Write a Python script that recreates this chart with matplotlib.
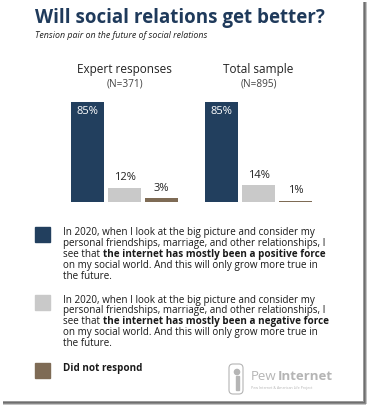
import matplotlib
matplotlib.use("Agg")
import matplotlib.pyplot as plt
from matplotlib.patches import Rectangle, FancyBboxPatch, Circle

# data
groups = ["Expert responses", "Total sample"]
group_n = ["(N=371)", "(N=895)"]
expert_vals = [85, 12, 3]
total_vals = [85, 14, 1]
colors = ["#223f5e", "#c9c9c9", "#7e6b55"]
title = "Will social relations get better?"
subtitle = "Tension pair on the future of social relations"
legend_pos = [
    "In 2020, when I look at the big picture and consider my",
    "personal friendships, marriage, and other relationships, I",
    [("see that", "normal"), ("the internet has mostly been a positive force", "bold")],
    "on my social world. And this will only grow more true in",
    "the future.",
]
legend_neg = [
    "In 2020, when I look at the big picture and consider my",
    "personal friendships, marriage, and other relationships, I",
    [("see that", "normal"), ("the internet has mostly been a negative force", "bold")],
    "on my social world. And this will only grow more true in",
    "the future.",
]

W, H = 369, 407
plt.rcParams['font.family'] = ['Open Sans', 'DejaVu Sans']
fig = plt.figure(figsize=(W / 100, H / 100), dpi=100)
fig.patch.set_facecolor("white")

# overlay axes in pixel coordinates for text / layout
bg = fig.add_axes([0, 0, 1, 1])
bg.set_xlim(0, W)
bg.set_ylim(H, 0)
bg.axis("off")

renderer = fig.canvas.get_renderer()


def text_w(s, size, weight):
    t = bg.text(0, 0, s, fontsize=size, fontweight=weight)
    w = t.get_window_extent(renderer).width
    t.remove()
    return w


def rich_line(x, y, parts, size, color="#1a1a1a"):
    sp = text_w("x x", size, "normal") - text_w("xx", size, "normal")
    for s, wgt in parts:
        t = bg.text(x, y, s, fontsize=size, fontweight=wgt, color=color,
                    ha="left", va="center")
        x += t.get_window_extent(renderer).width + sp


# title
bg.text(35, 18, title, fontsize=13.5, fontweight="bold", color="#1f3a5b",
        ha="left", va="center")
bg.text(35, 36, subtitle, fontsize=6.4, style="italic", color="#222222",
        ha="left", va="center")

# bars
ax = fig.add_axes([69 / W, 1 - 201.7 / H, 245 / W, 100 / H])
ax.set_xlim(-0.5, 6.12)
ax.set_ylim(0, 85)
ax.axis("off")
offsets = [0, 3.62]
for g, vals in enumerate([expert_vals, total_vals]):
    xs = [offsets[g] + i for i in range(3)]
    ax.bar(xs, vals, width=0.87, color=colors, edgecolor="none")
    for i, (x, v) in enumerate(zip(xs, vals)):
        if i == 0:
            ax.text(x, v - 8.5, f"{v}%", ha="center", va="center", color="white",
                    fontsize=8)
        else:
            ax.text(x, v + 8.5, f"{v}%", ha="center", va="center", color="#222222",
                    fontsize=8, clip_on=False)
    cx = offsets[g] + 1
    ax.text(cx, 85 + 0.85 * 31.7, groups[g], ha="center", va="center",
            fontsize=8.5, color="#222222", clip_on=False)
    ax.text(cx, 85 + 0.85 * 17.7, group_n[g], ha="center", va="center",
            fontsize=7.2, color="#444444", clip_on=False)

# legend
sq = 15
line_h = 10.9
bg.add_patch(Rectangle((35, 226.5), sq, sq, color=colors[0]))
bg.add_patch(Rectangle((35, 295), sq, sq, color=colors[1]))
bg.add_patch(Rectangle((35, 363.3), sq, sq, color=colors[2]))
for block, y0 in [(legend_pos, 233), (legend_neg, 300)]:
    for k, line in enumerate(block):
        y = y0 + k * line_h
        if isinstance(line, list):
            rich_line(63, y, line, 7.1)
        else:
            bg.text(63, y, line, fontsize=7.1, color="#1a1a1a", ha="left", va="center")
bg.text(63, 368, "Did not respond", fontsize=7.1, fontweight="bold", color="#1a1a1a",
        ha="left", va="center")

# Pew Internet logo
logo_c = "#b5b5b5"
bg.add_patch(FancyBboxPatch((229, 364), 14, 30, boxstyle="round,pad=0,rounding_size=4",
                            fill=False, ec=logo_c, lw=0.8))
bg.add_patch(Circle((237, 372), 2.6, color=logo_c))
bg.add_patch(Rectangle((235.5, 376), 3.2, 14, color=logo_c))
bg.text(251, 377, "Pew", fontsize=9.5, color=logo_c, ha="left", va="center")
pw = text_w("Pew", 9.5, "normal")
bg.text(251 + pw + 1, 377, "Internet", fontsize=9.5, fontweight="bold", color=logo_c,
        ha="left", va="center")
bg.text(251, 388, "Pew Internet & American Life Project", fontsize=2.6, color=logo_c,
        ha="left", va="center")

# card shadow on right and bottom
for i, c in enumerate(["#9a9a9a", "#6e6e6e", "#8a8a8a", "#c4c4c4"]):
    bg.add_patch(Rectangle((363 + i, 2), 1, 402, color=c, lw=0))
    bg.add_patch(Rectangle((3, 401 + i), 363, 1, color=c, lw=0))

fig.savefig("out.png", dpi=100, facecolor="white")
